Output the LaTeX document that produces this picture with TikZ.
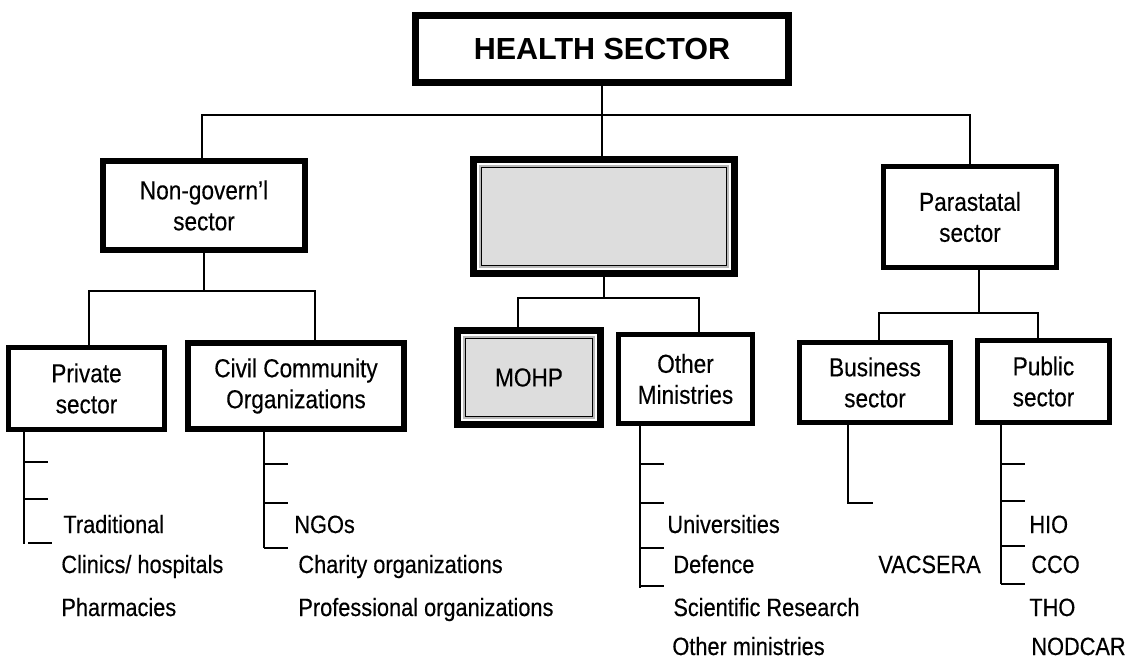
\documentclass[tikz,border=0pt]{standalone}
\usepackage{fontspec}
\setmainfont{Liberation Sans}[FakeStretch=0.87, FakeBold=0.3]
\newfontfamily\headfont{Liberation Sans}
\usetikzlibrary{positioning}
\definecolor{govgray}{RGB}{221,221,221}
\newcommand{\boxfont}{\fontsize{13}{15.5}\selectfont}
\newcommand{\itemfont}{\fontsize{12.5}{14}\selectfont}
\tikzstyle{sectorbox} = [rectangle, draw=black, line width=2.5pt, outer sep=0pt, inner sep=0pt, align=center, font=\boxfont]
\tikzstyle{headbox} = [sectorbox, line width=3.5pt, font=\headfont\bfseries\fontsize{15.25}{18}\selectfont]
\tikzstyle{govbox} = [sectorbox, line width=3.5pt, path picture={
  \draw[gray!55, line width=1pt] ([shift={(3.25pt,-3.25pt)}]path picture bounding box.north west) rectangle ([shift={(-3.25pt,3.25pt)}]path picture bounding box.south east);
  \draw[black, line width=0.5pt, fill=govgray] ([shift={(4pt,-4pt)}]path picture bounding box.north west) rectangle ([shift={(-4pt,4pt)}]path picture bounding box.south east);
}]
\tikzstyle{item} = [anchor=base west, inner sep=0pt, font=\itemfont]
\tikzstyle{link} = [line width=0.6pt]
\tikzstyle{listline} = [line width=0.8pt]

\begin{document}
\begin{tikzpicture}[x=0.5pt, y=-0.5pt]
\useasboundingbox (0,0) rectangle (1126,659);

%% NODES

\node (health) [headbox, minimum width=186.5pt, minimum height=33.5pt] at (602,49) {HEALTH SECTOR};
\node (nongov) [sectorbox, line width=3pt, minimum width=101pt, minimum height=44.5pt] at (204,205.5) {Non-govern’l\\sector};
\node (gov) [govbox, minimum width=130.5pt, minimum height=57pt] at (604,216.5) {};
\node (para) [sectorbox, minimum width=86.5pt, minimum height=50.5pt] at (970,217) {Parastatal\\sector};

\node (priv) [sectorbox, minimum width=78pt, minimum height=41pt] at (86.5,388.5) {Private\\sector};
\node (civil) [sectorbox, line width=3pt, minimum width=108pt, minimum height=43pt] at (296,386) {Civil Community\\Organizations};
\node (mohp) [govbox, minimum width=71.5pt, minimum height=47pt] at (529,377.5) {MOHP};
\node (other) [sectorbox, minimum width=67pt, minimum height=44.5pt] at (685.5,379) {Other\\Ministries};
\node (bus) [sectorbox, minimum width=75.5pt, minimum height=40pt] at (875,382.5) {Business\\sector};
\node (pub) [sectorbox, minimum width=66pt, minimum height=41pt] at (1043.5,381.5) {Public\\sector};

% lists under the boxes
\node (trad) [item] at (63,533) {Traditional};
\node (clinics) [item] at (61,573) {Clinics/ hospitals};
\node (pharm) [item] at (61,616) {Pharmacies};

\node (ngos) [item] at (294,533) {NGOs};
\node (charity) [item] at (298,573) {Charity organizations};
\node (prof) [item] at (298,616) {Professional organizations};

\node (univ) [item] at (667,533) {Universities};
\node (defence) [item] at (673,573) {Defence};
\node (research) [item] at (673,616) {Scientific Research};
\node (othermin) [item] at (672,655) {Other ministries};

\node (vacsera) [item] at (878,573) {VACSERA};

\node (hio) [item] at (1029,533) {HIO};
\node (cco) [item] at (1031,573) {CCO};
\node (tho) [item] at (1029,616) {THO};
\node (nodcar) [item] at (1031,655) {NODCAR};

%% LINES

\coordinate (topbus) at (603,115);
\draw [link] (health) -- (health |- gov.north);
\draw [link] ([xshift=-1pt]nongov.north) |- (topbus) -| (para.north);

\coordinate (ngbus) at (204,291);
\draw [link] (nongov.south) -- (ngbus);
\draw [link] ([xshift=1.25pt]priv.north) |- (ngbus) -| ([xshift=9.5pt]civil.north);

\coordinate (govbus) at (604,298);
\draw [link] (gov.south) -- (govbus);
\draw [link] ([xshift=-5.5pt]mohp.north) |- (govbus) -| ([xshift=6.75pt]other.north);

\coordinate (parabus) at (979,313);
\draw [link] ([xshift=4.5pt]para.south) -- (parabus);
\draw [link] ([xshift=2pt]bus.north) |- (parabus) -| ([xshift=-2.75pt]pub.north);

% private sector
\coordinate (privend) at (24,544);
\draw [listline] (privend |- priv.south) -- (privend);
\foreach \y/\a [count=\i] in {462/24, 499/24, 543/28} {
  \coordinate (priv-\i) at (\a,\y);
  \draw [listline] (priv-\i) -- ++(24,0);
}

% civil community
\coordinate (civilend) at (264,548);
\draw [listline] (civilend |- civil.south) -- (civilend);
\foreach \y [count=\i] in {464, 503, 548} {
  \coordinate (civil-\i) at (264,\y);
  \draw [listline] (civil-\i) -- ++(24,0);
}

% other ministries
\coordinate (otherend) at (640,588);
\draw [listline] (otherend |- other.south) -- (otherend);
\foreach \y [count=\i] in {464, 503, 548, 586} {
  \coordinate (other-\i) at (640,\y);
  \draw [listline] (other-\i) -- ++(24,0);
}

% business sector
\coordinate (busend) at (873,503);
\draw [listline] (848,0 |- bus.south) |- (busend);

% public sector
\coordinate (pubend) at (1001,584);
\draw [listline] (pubend |- pub.south) -- (pubend);
\foreach \y [count=\i] in {464, 501, 546, 584} {
  \coordinate (pub-\i) at (1001,\y);
  \draw [listline] (pub-\i) -- ++(24,0);
}

\end{tikzpicture}
\end{document}
